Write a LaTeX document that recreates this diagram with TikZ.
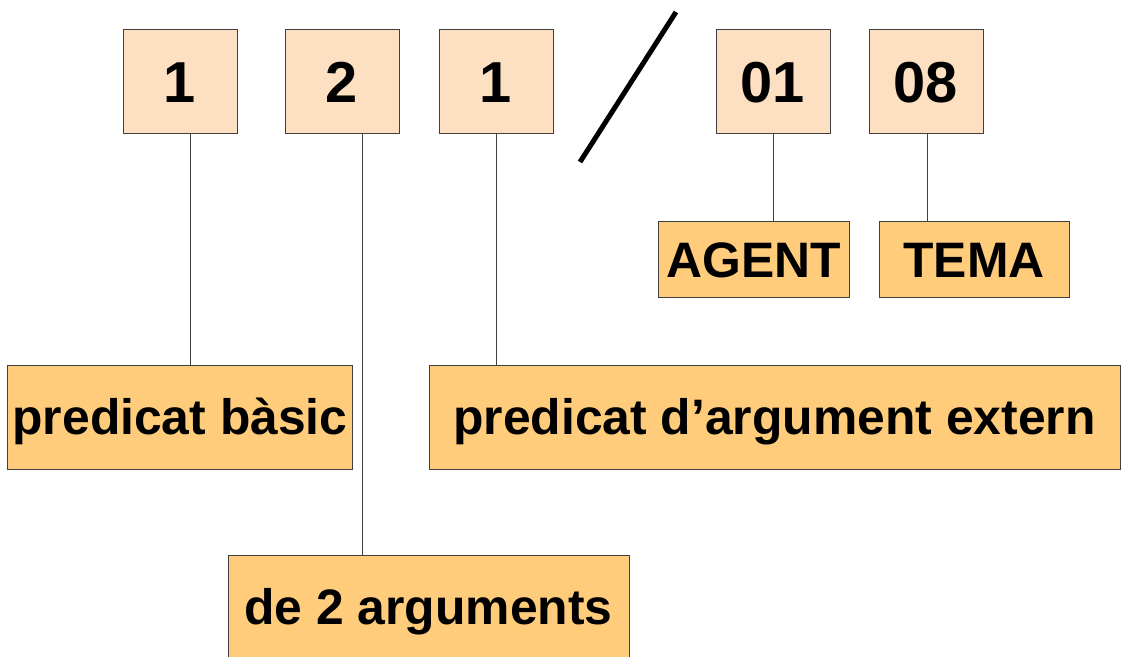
\documentclass[tikz,border=0pt]{standalone}
\usepackage{fontspec}
\setmainfont{Liberation Sans}
\definecolor{peach}{HTML}{FDE0C2}
\definecolor{orangebox}{HTML}{FFCC7C}
\definecolor{edge}{HTML}{404040}
\tikzset{
  numbox/.style={draw=edge, line width=1bp, fill=peach, inner sep=0pt,
    minimum width=114bp, minimum height=104bp,
    font=\fontsize{58}{60}\selectfont\bfseries, text height=41.5pt, text depth=0pt},
  lblbox/.style={draw=edge, line width=1bp, fill=orangebox, inner sep=0pt,
    font=\fontsize{50}{60}\selectfont\bfseries, text height=35.8pt, text depth=0pt},
  conn/.style={draw=edge, line width=1bp},
}
\begin{document}
\begin{tikzpicture}[x=1bp,y=-1bp]
\useasboundingbox (0,0) rectangle (1121,657);
% top number boxes
\node[numbox] (d1) at (180,82) {1};
\node[numbox] (d2) at (342,82) {2};
\node[numbox] (d3) at (496,82) {1};
\node[numbox] (d4) at (773,82) {01};
\node[numbox] (d5) at (926,82) {08};
% label boxes
\node[lblbox, minimum width=191bp, minimum height=75bp] (ag) at (753.5,259.5) {AGENT};
\node[lblbox, minimum width=190bp, minimum height=75bp] (tm) at (974,259.5) {TEMA};
\node[lblbox, minimum width=344bp, minimum height=104bp] (pb) at (180,417) {predicat bàsic};
\node[lblbox, minimum width=691bp, minimum height=104bp] (pe) at (774.5,417) {predicat d’argument extern};
\node[lblbox, minimum width=401bp, minimum height=104bp] (da) at (428.5,607) {de 2 arguments};
% slash
\coordinate (s1) at (580,162);
\coordinate (s2) at (676,12);
\draw[line width=5bp, black] (s1) -- (s2);
% connectors
\draw[conn] ([xshift=10bp]d1.south) -- ([xshift=10bp]d1.south |- pb.north);
\draw[conn] ([xshift=20bp]d2.south) -- ([xshift=20bp]d2.south |- da.north);
\draw[conn] (d3.south) -- (d3.south |- pe.north);
\draw[conn] (d4.south) -- (d4.south |- ag.north);
\draw[conn] ([xshift=1bp]d5.south) -- ([xshift=1bp]d5.south |- tm.north);
\end{tikzpicture}
\end{document}
